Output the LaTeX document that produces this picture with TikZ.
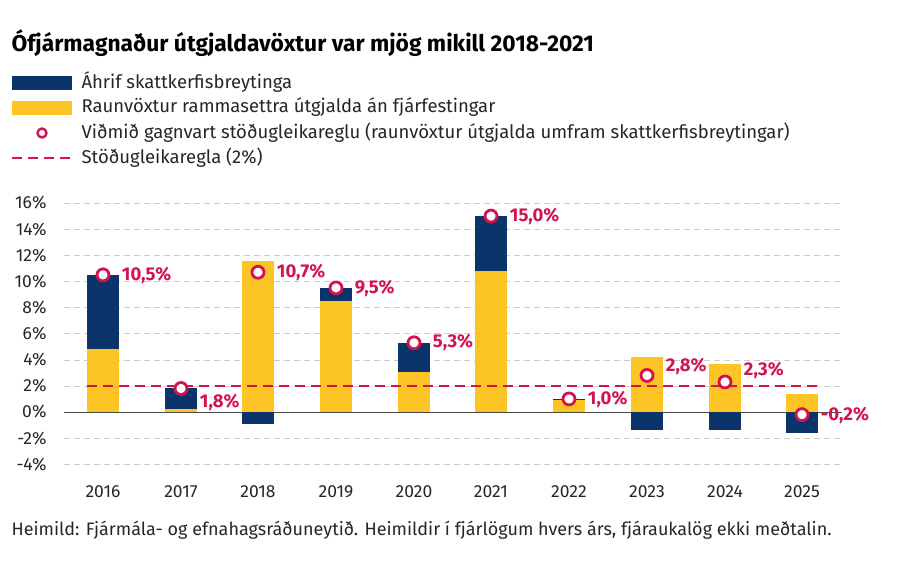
\documentclass[tikz,border=0pt]{standalone}
\usepackage{fontspec}
\setmainfont{Fira Sans}
\definecolor{navy}{HTML}{0B356A}
\definecolor{yel}{HTML}{FDC425}
\definecolor{crim}{HTML}{D3124E}
\definecolor{gridc}{HTML}{CCCCCC}
\begin{document}
\begin{tikzpicture}[x=1pt,y=-1pt,
 mk/.style={circle,draw=crim,fill=white,line width=2.8pt,inner sep=0pt,minimum size=12pt},
 lab/.style={text=crim,font=\fontsize{18.5}{18.5}\selectfont\bfseries,anchor=west},
 tick/.style={font=\fontsize{17.5}{17.5}\selectfont,text=black!85},
 leg/.style={anchor=west,font=\fontsize{18.5}{18.5}\selectfont,text=black!85}]
\useasboundingbox (0,0) rectangle (900,576);
\node[anchor=west,font=\fontsize{22.8}{22.8}\selectfont\bfseries] (title) at (8,43) {Ófjármagnaður útgjaldavöxtur var mjög mikill 2018-2021};
% legend
\fill[navy] (12,76) rectangle (72,90);
\node[leg] (l1) at (78,82) {Áhrif skattkerfisbreytinga};
\fill[yel] (12,101) rectangle (72,115);
\node[leg] (l2) at (78,107) {Raunvöxtur rammasettra útgjalda án fjárfestingar};
\node[mk,minimum size=9pt,line width=2.4pt] (l3m) at (42,133) {};
\node[leg] (l3) at (78,133) {Viðmið gagnvart stöðugleikareglu (raunvöxtur útgjalda umfram skattkerfisbreytingar)};
\draw[crim,line width=2.6pt,dash pattern=on 10pt off 6pt] (12,158) -- (72,158);
\node[leg] (l4) at (78,158) {Stöðugleikaregla (2\%)};
% grid
\foreach \v in {-4,-2,2,4,...,16}{
 \draw[gridc,dash pattern=on 6pt off 4pt] (64,{412-13.06*\v}) -- (842,{412-13.06*\v});
 \node[tick,anchor=east] at (50,{412-13.06*\v}) {\v\%};}
\node[tick,anchor=east] at (50,412) {0\%};
\draw[black!70] (64,412) -- (842,412);
% bars
\foreach \x/\ya/\yb/\na/\nb [count=\i] in {
 103/0/4.8/4.8/10.5, 181/0/0.2/0.2/1.8, 258/0/11.6/0/-0.9, 336/0/8.5/8.5/9.5,
 414/0/3.1/3.1/5.3, 491/0/10.8/10.8/15.0, 569/0/0.9/0.9/1.0, 647/0/4.2/0/-1.4,
 725/0/3.7/0/-1.4, 802/0/1.4/0/-1.6}{
 \fill[yel] ({\x-16},{412-13.06*\ya}) rectangle ({\x+16},{412-13.06*\yb});
 \fill[navy] ({\x-16},{412-13.06*\na}) rectangle ({\x+16},{412-13.06*\nb});
 \node[tick] at (\x,492) {\pgfmathparse{int(2015+\i)}\pgfmathresult};
}
\draw[crim,line width=2.6pt,dash pattern=on 10pt off 6pt] (87,386) -- (818,386);
\foreach \x/\m/\t/\dy in {103/10.5/{10,5\%}/1,181/1.8/{1,8\%}/14,258/10.7/{10,7\%}/0,336/9.5/{9,5\%}/1,414/5.3/{5,3\%}/0,491/15.0/{15,0\%}/0,569/1.0/{1,0\%}/1,647/2.8/{2,8\%}/-9,725/2.3/{2,3\%}/-11,802/-0.2/{-0,2\%}/1}{
 \node[mk] (m\x) at (\x,{412-13.06*\m}) {};
 \node[lab] at ([xshift=8pt,yshift=-\dy pt]m\x.east) {\t};
}
\node[anchor=west,font=\fontsize{18}{18}\selectfont,text=black!85] (src) at (8,530) {Heimild: Fjármála- og efnahagsráðuneytið. Heimildir í fjárlögum hvers árs, fjáraukalög ekki meðtalin.};
\end{tikzpicture}
\end{document}
